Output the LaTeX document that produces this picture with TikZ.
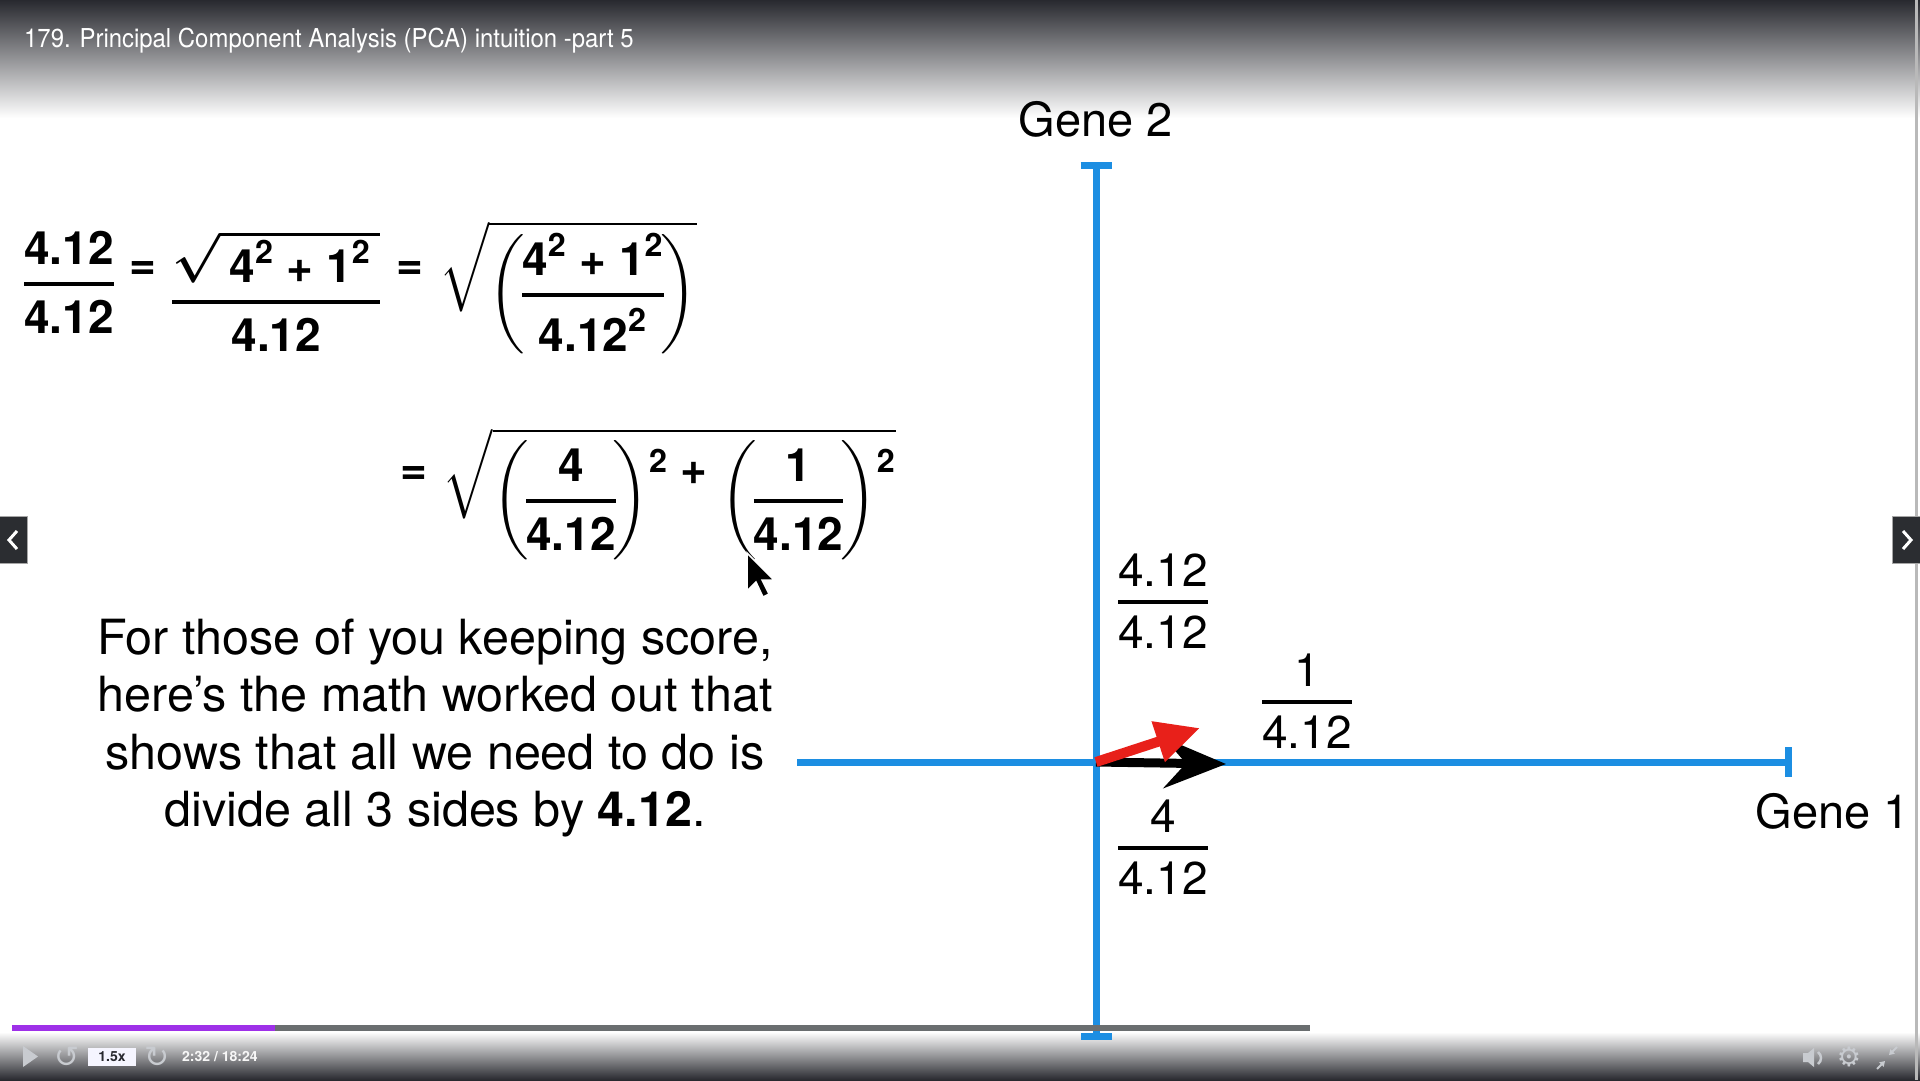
\documentclass[tikz,border=0pt]{standalone}
\usepackage{amsmath}
\usepackage{graphicx}
\usepackage{fontspec}
\setmainfont{TeX Gyre Heros}
\newfontfamily\symfont{DejaVu Sans}
\usetikzlibrary{arrows.meta}

\definecolor{axisblue}{RGB}{28,142,226}
\definecolor{vecred}{RGB}{232,32,26}
\definecolor{bardark}{RGB}{40,41,47}
\definecolor{progpurple}{RGB}{158,48,232}
\definecolor{proggray}{RGB}{106,110,112}
\definecolor{icongray}{RGB}{200,203,208}
\definecolor{navdark}{RGB}{43,45,49}

% numbers and signs in the text font
\newcommand{\nm}[1]{\text{#1}}
\newcommand{\pl}{\mathbin{\text{+}}}
\newcommand{\eqr}[1]{\mathrel{\raise#1\hbox{=}}}
\newcommand{\plr}[1]{\mathbin{\raise#1\hbox{+}}}
\newcommand{\sqr}{^{\lower9pt\hbox{$\scriptstyle\nm{2}$}}}
\newcommand{\nodelim}{\nulldelimiterspace=0pt\relax}
% fraction with a thick bar and even gaps
\newcommand{\barfrac}[2]{\genfrac{}{}{2pt}{0}{\lower.12em\hbox{$#1$}}{#2}}
\newcommand{\parfrac}[2]{\left(\mkern-1mu\barfrac{#1}{#2}\mkern-1mu\right)}
% math is set at 23pt and doubled
\newcommand{\dbl}[1]{\scalebox{2}{#1}}

\begin{document}
\begin{tikzpicture}[x=1pt, y=-1pt,
            axis/.style={draw=axisblue, line width=7pt},
            lbl/.style={font=\fontsize{23}{27.5}\selectfont, inner sep=0pt},
            eqn/.style={font=\fontsize{23}{27.5}\selectfont\bfseries\boldmath\nodelim, inner sep=0pt, anchor=base west},
            gene/.style={font=\fontsize{47}{56}\selectfont, inner sep=0pt},
            note/.style={font=\fontsize{48.5}{57.5}\selectfont, align=center, inner sep=0pt},
            vec/.style={line width=9pt},
            ctl/.style={font=\fontsize{14}{16}\selectfont\bfseries, inner sep=0pt},
            icon/.style={text=icongray, inner sep=0pt}
        ]
        \useasboundingbox (0,0) rectangle (1920,1080);
        \fill[white] (0,0) rectangle (1920,1080);
        \shade[top color=bardark, bottom color=white] (0,0) rectangle (1920,118);
        \shade[top color=white, bottom color=bardark] (0,1032) rectangle (1920,1080);
        \draw[gray!55, line width=3pt] (1916,0) -- (1916,1080);

        \node[font=\fontsize{26}{30}\selectfont, text=white, anchor=west, inner sep=0pt] (title) at (24,41)
            {\scalebox{0.92}[1]{179. Principal Component Analysis (PCA) intuition -part 5}};

        % axes
        \coordinate (ytop) at (1096,162);
        \coordinate (ybot) at (1096,1040);
        \coordinate (xleft) at (797,762);
        \coordinate (xright) at (1792,762);
        \coordinate (O) at (1096,762);
        \draw[axis, {Bar[width=31pt]}-{Bar[width=31pt]}] (ytop) -- (ybot);
        \draw[axis, -{Bar[width=30pt]}] (xleft) -- (xright);
        \node[gene] (g2) at (1096,119) {Gene 2};
        \node[gene] (g1) at (1833,811) {Gene 1};

        % vectors
        \coordinate (blktip) at (1226,764);
        \coordinate (redtip) at (1200,728);
        \draw[vec, black, -{Stealth[length=62pt, width=50pt, inset=22pt]}] (O) -- (blktip);
        \draw[vec, vecred, line width=10pt, -{Triangle[length=44pt, width=40pt]}] (O) -- (redtip);

        % axis labels
        \node[lbl] (f412) at (1163,601) {\dbl{$\barfrac{\nm{4.12}}{\nm{4.12}}$}};
        \node[lbl] (f1) at (1307,701) {\dbl{$\barfrac{\nm{1}}{\nm{4.12}}$}};
        \node[lbl] (f4) at (1163,847) {\dbl{$\barfrac{\nm{4}}{\nm{4.12}}$}};

        % worked out math
        \node[eqn] (eq1) at (24,296)
            {\dbl{$\barfrac{\nm{4.12}}{\nm{4.12}} \eqr{8.5pt}
              \lower9pt\hbox{$\barfrac{\sqrt{\,\nm{4}^{\nm{2}} \pl \nm{1}^{\nm{2}}\,}}{\nm{4.12}}$}
              \eqr{8.5pt}
              \lower5.5pt\hbox{$\sqrt{\smash[b]{\parfrac{\nm{4}^{\nm{2}} \pl \nm{1}^{\nm{2}}}{\nm{4.12}^{\nm{2}}}}}$}$}};
        \node[eqn] (eq2) at (400,513)
            {\dbl{$\eqr{14.5pt} \sqrt{\smash[b]{\parfrac{\nm{4}}{\nm{4.12}}\sqr \plr{14.5pt} \parfrac{\nm{1}}{\nm{4.12}}\sqr}}$}};

        \node[note] (score) at (435,728) {For those of you keeping score,\\here’s the math worked out that\\shows that all we need to do is\\divide all 3 sides by \textbf{4.12}.};

        % mouse pointer
        \filldraw[black, draw=white, line width=1.5pt] (747,553) -- ++(0,38) -- ++(9,-9) -- ++(7,15) -- ++(6,-3)
            -- ++(-7,-14) -- ++(12,0) -- cycle;

        % side buttons
        \filldraw[fill=navdark, draw=gray!70] (-1,516) rectangle (27,563);
        \draw[white, line width=3pt] (17,531) -- (9,540) -- (17,549);
        \filldraw[fill=navdark, draw=gray!70] (1892,516) rectangle (1921,563);
        \draw[white, line width=3pt] (1903,531) -- (1911,540) -- (1903,549);

        % player bar
        \fill[proggray] (275,1025) rectangle (1310,1031);
        \fill[progpurple] (12,1025) rectangle (275,1031);
        \fill[icongray] (23,1046) -- (23,1067) -- (38,1056.5) -- cycle;
        \node[icon, font=\fontsize{30}{32}\symfont] (back) at (67,1057) {↺};
        \node[ctl, fill=white!96!blue, minimum width=48pt, minimum height=18pt, text=bardark] (speed) at (112,1057) {1.5x};
        \node[icon, font=\fontsize{30}{32}\symfont] (fwd) at (157,1057) {↻};
        \node[ctl, text=white!94!gray, anchor=west] (time) at (182,1057) {2:32 / 18:24};
        \fill[icongray] (1803,1053) rectangle (1808,1062) (1808,1053) -- (1814,1048) -- (1814,1067) -- (1808,1062) -- cycle;
        \draw[icongray, line width=2.5pt] (1818,1052) .. controls (1822,1055) and (1822,1061) .. (1818,1064);
        \node[icon, font=\fontsize{27}{29}\symfont] (gear) at (1849,1057) {⚙};
        \coordinate (c1) at (1897,1047);
        \coordinate (c2) at (1889,1055);
        \coordinate (c3) at (1877,1069);
        \coordinate (c4) at (1885,1061);
        \draw[icongray, line width=2pt, -{Triangle[length=5pt, width=6pt]}] (c1) -- (c2);
        \draw[icongray, line width=2pt, -{Triangle[length=5pt, width=6pt]}] (c3) -- (c4);
    \end{tikzpicture}
\end{document}
